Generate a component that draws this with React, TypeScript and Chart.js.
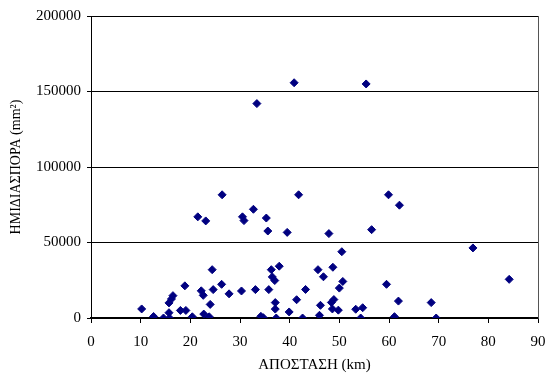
import React, { useEffect, useRef } from "react";
import { Chart, registerables } from "chart.js";

Chart.register(...registerables);

// Distance (km)
const distances: number[] = [
  10.2, 12.6, 14.6, 15.8, 15.7, 15.7, 16.2, 16.5, 18.0, 18.9,
  19.1, 20.4, 21.5, 22.2, 22.6, 22.7, 23.1, 23.8, 24.0, 24.4,
  24.6, 26.3, 26.4, 27.8, 30.3, 30.5, 30.8, 32.7, 33.1, 33.4,
  34.2, 34.7, 35.3, 35.6, 35.8, 36.3, 36.5, 37.0, 37.1, 37.1,
  37.3, 37.9, 39.5, 39.9, 40.9, 41.4, 41.8, 42.6, 43.2, 45.7,
  46.0, 46.2, 46.8, 47.9, 48.4, 48.7, 48.6, 48.9, 50.0, 49.8,
  50.5, 50.7, 53.3, 54.3, 54.7, 55.4, 56.5, 59.5, 59.9, 61.1,
  61.9, 62.1, 68.5, 69.5, 76.9, 84.2,
];

// Semivariance (mm^2)
const semivariance: number[] = [
  6000, 1000, 0, 0, 3500, 10000, 12600, 14800, 5000, 21300,
  5000, 800, 67000, 18000, 15000, 2600, 64300, 800, 9000, 32000,
  18800, 22300, 81600, 16000, 17900, 67000, 64500, 72000, 18800, 142000,
  1100, 200, 66200, 57600, 18800, 32000, 27200, 24800, 10200, 5900,
  0, 34300, 56700, 4000, 155800, 12100, 81600, 0, 18900, 32000,
  1800, 8400, 27300, 55900, 10300, 33600, 6000, 12200, 19800, 5200,
  43900, 24200, 5800, 0, 6800, 155000, 58500, 22300, 81600, 900,
  11200, 74700, 10200, 0, 46400, 25600,
];

const xTitle = "ΑΠΟΣΤΑΣΗ (km)";
const yTitle = "ΗΜΙΔΙΑΣΠΟΡΑ (mm²)";

const FONT = "'Liberation Serif', 'Times New Roman', serif";

export default function App() {
  const ref = useRef<HTMLCanvasElement | null>(null);

  useEffect(() => {
    if (!ref.current) return;
    const points = distances.map((x, i) => ({ x, y: semivariance[i] }));

    const borderPlugin = {
      id: "frameRight",
      afterDraw(chart: any) {
        const { ctx, chartArea } = chart;
        ctx.save();
        ctx.strokeStyle = "#555555";
        ctx.lineWidth = 1;
        ctx.beginPath();
        ctx.moveTo(Math.round(chartArea.right) + 0.5, chartArea.top);
        ctx.lineTo(Math.round(chartArea.right) + 0.5, chartArea.bottom);
        ctx.stroke();
        ctx.restore();
      },
    };

    const chart = new Chart(ref.current, {
      type: "scatter",
      data: {
        datasets: [
          {
            data: points,
            pointStyle: "rectRot",
            pointRadius: 4,
            pointHoverRadius: 4,
            backgroundColor: "#000080",
            borderColor: "#000080",
            borderWidth: 1,
          },
        ],
      },
      options: {
        responsive: false,
        animation: false,
        layout: { padding: { left: 0, right: 8, top: 16, bottom: 0 } },
        plugins: {
          legend: { display: false },
          tooltip: { enabled: false },
        },
        scales: {
          x: {
            type: "linear",
            min: 0,
            max: 90,
            afterFit: (s: any) => {
              s.height = 56;
              s.paddingLeft = 0;
              s.paddingRight = 0;
            },
            ticks: {
              stepSize: 10,
              color: "#000",
              padding: 10,
              font: { family: FONT, size: 15 },
            },
            grid: {
              drawOnChartArea: false,
              drawTicks: true,
              tickLength: 5,
              color: "#000",
            },
            border: { display: true, color: "#000", width: 1.5 },
            title: {
              display: true,
              text: xTitle,
              color: "#000",
              font: { family: FONT, size: 15 },
              padding: { top: 0, bottom: 0 },
            },
          },
          y: {
            type: "linear",
            min: 0,
            max: 200000,
            afterFit: (s: any) => {
              s.width = 91;
              s.paddingTop = 0;
              s.paddingBottom = 0;
            },
            ticks: {
              stepSize: 50000,
              color: "#000",
              padding: 6,
              font: { family: FONT, size: 15 },
              callback: (v: any) => String(v),
            },
            grid: {
              drawOnChartArea: true,
              drawTicks: true,
              tickLength: 4,
              color: "#000",
              lineWidth: 1,
            },
            border: { display: true, color: "#000", width: 1 },
            title: {
              display: true,
              text: yTitle,
              color: "#000",
              font: { family: FONT, size: 14 },
              padding: { top: 8, bottom: 0 },
            },
          },
        },
      },
      plugins: [borderPlugin],
    } as any);

    return () => chart.destroy();
  }, []);

  return (
    <div style={{ position: "absolute", left: 0, top: 0, width: 546, height: 374, background: "#fff" }}>
      <canvas ref={ref} width={546} height={374} />
    </div>
  );
}
